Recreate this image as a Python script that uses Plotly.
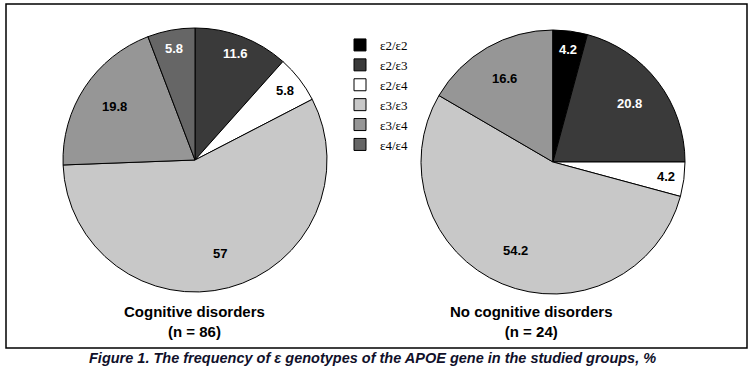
import math
import plotly.graph_objects as go

W, H = 753, 374

genotypes = ["ε2/ε2", "ε2/ε3", "ε2/ε4", "ε3/ε3", "ε3/ε4", "ε4/ε4"]
colors = ["#000000", "#3a3a3a", "#ffffff", "#c8c8c8", "#969696", "#666666"]
text_colors = ["#ffffff", "#ffffff", "#000000", "#000000", "#000000", "#ffffff"]

cog_values = [0, 11.6, 5.8, 57, 19.8, 5.8]
nocog_values = [4.2, 20.8, 4.2, 54.2, 16.6, 0]

group_titles = ["Cognitive disorders<br>(n = 86)", "No cognitive disorders<br>(n = 24)"]
caption = "Figure 1. The frequency of ε genotypes of the APOE gene in the studied groups, %"


def px(x):
    return x / W


def py(y):
    return 1 - y / H


def pie(values, x0, x1, y0, y1, showlegend):
    return go.Pie(
        labels=genotypes,
        values=values,
        sort=False,
        direction="clockwise",
        rotation=0,
        marker=dict(colors=colors, line=dict(color="#000000", width=1)),
        textinfo="none",
        hoverinfo="label+value",
        domain=dict(x=[px(x0), px(x1)], y=[py(y1), py(y0)]),
        showlegend=showlegend,
    )


def value_labels(values, x0, x1, y0, y1):
    # place value labels at the mid-angle of each slice (clockwise from 12 o'clock)
    cx, cy = (x0 + x1) / 2, (y0 + y1) / 2
    r = (x1 - x0) / 2
    total = sum(values)
    out = []
    cum = 0
    for v, tc in zip(values, text_colors):
        if v <= 0:
            continue
        mid = (cum + v / 2) / total * 2 * math.pi
        cum += v
        f = 0.73 if v / total >= 0.15 else 0.86
        tx = cx + f * r * math.sin(mid)
        ty = cy - f * r * math.cos(mid)
        out.append(dict(text=f"<b>{v:g}</b>", x=px(tx), y=py(ty), xref="paper", yref="paper",
                        showarrow=False, xanchor="center", yanchor="middle",
                        font=dict(family="Arial, Liberation Sans, sans-serif", size=13, color=tc)))
    return out


LEFT = (63, 327, 28, 292)
RIGHT = (421, 685, 30, 294)

fig = go.Figure()
# right pie first so legend order follows genotype order
fig.add_trace(pie(nocog_values, *RIGHT, True))
fig.add_trace(pie(cog_values, *LEFT, True))

annotations = value_labels(cog_values, *LEFT) + value_labels(nocog_values, *RIGHT)
annotations += [
    dict(text=f"<b>{group_titles[0]}</b>", x=px(194), y=py(321), xref="paper", yref="paper",
         showarrow=False, xanchor="center", yanchor="middle",
         font=dict(family="Arial, Liberation Sans, sans-serif", size=15, color="#000000")),
    dict(text=f"<b>{group_titles[1]}</b>", x=px(531), y=py(321), xref="paper", yref="paper",
         showarrow=False, xanchor="center", yanchor="middle",
         font=dict(family="Arial, Liberation Sans, sans-serif", size=15, color="#000000")),
    dict(text=f"<b><i>{caption}</i></b>", x=px(372), y=py(358), xref="paper", yref="paper",
         showarrow=False, xanchor="center", yanchor="middle",
         font=dict(family="Arial, Liberation Sans, sans-serif", size=14.5, color="#10102a")),
]

fig.update_layout(
    width=W, height=H,
    margin=dict(l=0, r=0, t=0, b=0),
    paper_bgcolor="#ffffff",
    plot_bgcolor="#ffffff",
    legend=dict(
        x=px(340), y=py(30), xanchor="left", yanchor="top",
        font=dict(family="Liberation Serif, Times New Roman, serif", size=13, color="#000000"),
        bgcolor="rgba(0,0,0,0)",
        traceorder="normal",
    ),
    shapes=[
        dict(type="rect", xref="paper", yref="paper",
             x0=px(6), x1=px(747), y0=py(348), y1=py(4),
             line=dict(color="#000000", width=1.5), fillcolor="rgba(0,0,0,0)", layer="below"),
    ],
    annotations=annotations,
)

fig.write_html("out.html", config={"displayModeBar": False},
               post_script="document.body.style.margin='0';document.body.style.padding='0';")
